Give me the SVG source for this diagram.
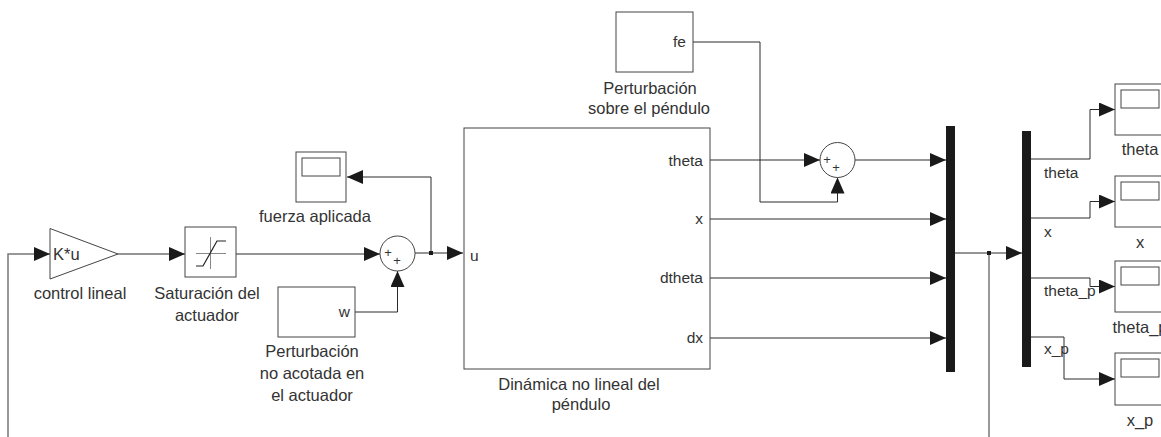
<svg xmlns="http://www.w3.org/2000/svg" width="1161" height="437" viewBox="0 0 1161 437">
  <defs>
    <marker id="arrow" markerUnits="userSpaceOnUse" markerWidth="17" markerHeight="15" refX="16" refY="7" orient="auto">
      <path d="M0,0 L16,7 L0,14 z" fill="#1a1a1a"/>
    </marker>
    <style>
      text { font-family: "Liberation Sans", Arial, sans-serif; fill: #333; }
      .lbl { font-size: 16.5px; text-anchor: middle; }
      .port { font-size: 15.5px; }
      .end { text-anchor: end; }
      .sign { font-size: 13px; text-anchor: middle; }
      .blk { fill: #fff; stroke: #444; stroke-width: 1; }
      .wire { fill: none; stroke: #2a2a2a; stroke-width: 1; }
      .arr { marker-end: url(#arrow); }
      .fb { fill: none; stroke: #777; stroke-width: 1.5; }
      .mux { fill: #1a1a1a; }
      .dot { fill: #1a1a1a; }
    </style>
  </defs>

  <!-- signal wiring -->
  <g id="connectors">
    <path class="fb" d="M8,437 V254 H34"/>
    <path class="wire arr" d="M34,254 H50"/>
    <path class="wire arr" d="M118,254 H185"/>
    <path class="wire arr" d="M236,254 H380"/>
    <path class="wire arr" d="M355,312 H397.5 V271"/>
    <path class="wire arr" d="M415,253 H463"/>
    <path class="wire arr" d="M431,253 V177 H347"/>
    <rect class="dot" x="429" y="251" width="4" height="4"/>

    <path class="wire arr" d="M710,160 H820"/>
    <path class="wire arr" d="M693,42 H760 V202 H837.5 V177.5"/>
    <path class="wire arr" d="M855,160 H946"/>
    <path class="wire arr" d="M710,219 H946"/>
    <path class="wire arr" d="M710,278 H946"/>
    <path class="wire arr" d="M710,338 H946"/>

    <path class="wire arr" d="M955,253 H1022"/>
    <path class="fb" d="M989,253 V437"/>
    <rect class="dot" x="987" y="251" width="4" height="4"/>

    <path class="wire arr" d="M1031,159 H1090 V109.5 H1115"/>
    <path class="wire arr" d="M1031,218 H1090 V201.5 H1115"/>
    <path class="wire arr" d="M1031,278 H1090 V286.5 H1115"/>
    <path class="wire arr" d="M1031,337 H1064 V379 H1115"/>

    <text class="port" x="1044" y="178">theta</text>
    <text class="port" x="1044" y="237">x</text>
    <text class="port" x="1044" y="296">theta_p</text>
    <text class="port" x="1044" y="354">x_p</text>
  </g>

  <!-- linear control gain -->
  <g id="gain">
    <polygon class="blk" points="50,228.5 50,279 118,254"/>
    <text class="port" x="53" y="260" style="font-size:16.5px">K*u</text>
    <text class="lbl" x="80" y="299">control lineal</text>
  </g>

  <!-- actuator saturation -->
  <g id="saturation">
    <rect class="blk" x="185" y="227" width="51" height="50"/>
    <path d="M196,253.5 H226 M210.5,237 V269" fill="none" stroke="#888" stroke-width="1"/>
    <path d="M196,266 H203 L217,241 H226" fill="none" stroke="#222" stroke-width="1.2"/>
    <text class="lbl" x="207" y="299">Saturación del</text>
    <text class="lbl" x="207" y="321">actuador</text>
  </g>

  <!-- unbounded actuator disturbance -->
  <g id="disturbance-w">
    <rect class="blk" x="278" y="287" width="77" height="50"/>
    <text class="port end" x="350" y="317">w</text>
    <text class="lbl" x="312" y="357">Perturbación</text>
    <text class="lbl" x="312" y="379">no acotada en</text>
    <text class="lbl" x="312" y="401">el actuador</text>
  </g>

  <!-- actuator sum -->
  <g id="sum-u">
    <circle class="blk" cx="397.5" cy="253.5" r="17.5"/>
    <text class="sign" x="388" y="257">+</text>
    <text class="sign" x="397" y="265">+</text>
  </g>

  <!-- applied force scope -->
  <g id="scope-fuerza">
    <rect class="blk" x="296" y="152" width="50" height="50"/>
    <rect class="blk" x="302" y="158" width="38" height="18"/>
    <text class="lbl" x="315" y="222">fuerza aplicada</text>
  </g>

  <!-- nonlinear pendulum dynamics -->
  <g id="dynamics">
    <rect class="blk" x="464" y="128" width="246" height="241"/>
    <text class="port" x="470" y="261">u</text>
    <text class="port end" x="703" y="166">theta</text>
    <text class="port end" x="703" y="224">x</text>
    <text class="port end" x="703" y="283">dtheta</text>
    <text class="port end" x="703" y="343">dx</text>
    <text class="lbl" x="579" y="390">Dinámica no lineal del</text>
    <text class="lbl" x="581" y="410">péndulo</text>
  </g>

  <!-- pendulum disturbance -->
  <g id="disturbance-fe">
    <rect class="blk" x="616" y="12" width="77" height="60"/>
    <text class="port end" x="686" y="47">fe</text>
    <text class="lbl" x="650" y="94">Perturbación</text>
    <text class="lbl" x="649" y="114">sobre el péndulo</text>
  </g>

  <!-- theta sum -->
  <g id="sum-theta">
    <circle class="blk" cx="837.5" cy="160" r="17.5"/>
    <text class="sign" x="827" y="164">+</text>
    <text class="sign" x="836" y="172">+</text>
  </g>

  <!-- mux / demux bars -->
  <g id="mux">
    <rect class="mux" x="946" y="126" width="9" height="246"/>
  </g>
  <g id="demux">
    <rect class="mux" x="1022" y="131" width="9" height="236"/>
  </g>

  <!-- output scopes -->
  <g id="scope-theta">
    <rect class="blk" x="1115" y="84" width="50" height="51"/>
    <rect class="blk" x="1121" y="90" width="38" height="18"/>
    <text class="lbl" x="1140" y="155">theta</text>
  </g>
  <g id="scope-x">
    <rect class="blk" x="1115" y="176" width="50" height="51"/>
    <rect class="blk" x="1121" y="182" width="38" height="18"/>
    <text class="lbl" x="1140" y="248">x</text>
  </g>
  <g id="scope-theta_p">
    <rect class="blk" x="1115" y="261" width="50" height="51"/>
    <rect class="blk" x="1121" y="267" width="38" height="18"/>
    <text class="lbl" x="1140" y="333">theta_p</text>
  </g>
  <g id="scope-x_p">
    <rect class="blk" x="1115" y="353" width="50" height="52"/>
    <rect class="blk" x="1121" y="359" width="38" height="18"/>
    <text class="lbl" x="1140" y="426">x_p</text>
  </g>
</svg>
